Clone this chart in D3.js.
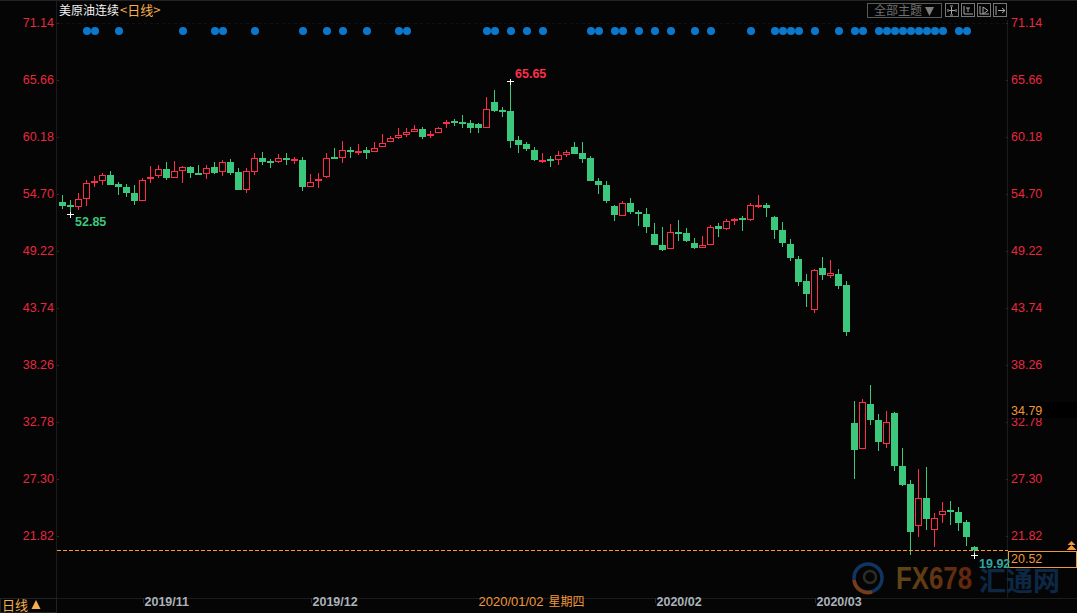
<!DOCTYPE html>
<html>
<head>
<meta charset="utf-8">
<style>
  html, body { margin: 0; padding: 0; background: #050505; overflow: hidden; }
  svg { display: block; }
  text { font-family: "Liberation Sans", Arial, sans-serif; }
  .cjk { font-family: "Noto Sans CJK SC", "Noto Sans", sans-serif; }
</style>
<script src="https://cdn.jsdelivr.net/npm/d3@7"></script>
</head>
<body>
<script>
    const opens = [53.88,53.59,53.43,54.14,55.78,55.93,56.48,55.61,55.33,54.75,54.01,56.23,56.41,57.06,56.22,56.89,57.25,56.67,56.60,57.25,
        56.80,57.73,56.77,55.07,56.80,58.11,57.82,57.76,58.11,57.92,57.92,55.35,55.87,56.32,58.21,58.14,58.88,58.74,58.88,58.72,
        59.20,59.68,60.07,60.35,60.64,60.90,60.32,60.49,61.35,61.67,61.57,61.48,61.38,61.03,63.50,62.73,62.63,59.85,59.46,58.88,
        57.82,58.02,57.95,58.43,59.17,58.59,58.11,55.90,55.52,53.50,52.57,53.79,52.92,52.73,50.81,49.75,49.39,51.00,50.90,49.94,
        49.49,49.78,51.58,51.32,52.15,52.34,52.18,53.40,53.59,52.44,51.19,49.85,48.40,46.29,43.53,47.54,46.80,46.96,45.90,32.64,
        30.17,34.46,32.92,30.64,33.60,28.50,26.77,22.70,25.43,22.38,23.76,24.24,24.08,23.12,20.71];
    const highs = [54.56,54.08,54.72,55.97,56.38,56.70,56.86,55.84,55.61,55.52,56.22,57.34,57.44,57.73,57.83,57.34,57.34,57.44,57.44,57.73,
        57.92,58.02,57.15,57.15,58.59,58.69,58.02,58.50,58.59,58.21,58.21,56.58,56.70,58.57,59.07,59.75,59.17,59.46,59.17,59.65,
        60.42,60.23,61.00,61.00,61.29,61.09,60.71,61.09,61.77,61.86,62.25,61.77,61.48,63.98,64.65,63.02,65.65,60.23,59.65,59.17,
        58.59,58.30,58.76,58.88,59.65,59.65,58.30,56.19,55.90,53.60,53.98,54.27,53.11,53.30,51.86,51.48,51.77,52.15,51.38,50.42,
        50.61,51.67,51.86,52.25,52.34,52.54,53.79,54.56,53.79,52.54,51.96,50.33,48.69,46.96,47.44,48.60,48.31,47.44,46.29,34.75,
        34.94,36.29,33.50,33.79,33.69,30.23,27.16,28.25,28.45,23.98,25.04,25.14,24.56,23.31,20.81];
    const lows = [53.24,52.85,53.11,53.50,55.35,55.52,55.52,54.56,54.39,53.59,54.01,55.74,56.22,56.00,56.22,55.74,56.22,56.48,56.09,56.57,
        56.41,56.51,55.04,54.78,56.51,57.44,57.15,57.60,57.44,57.54,54.94,55.30,55.23,56.22,58.05,57.66,58.11,58.40,58.02,58.72,
        59.14,59.68,59.94,60.13,60.64,59.94,60.04,60.49,61.00,61.19,61.00,60.52,60.52,61.03,62.54,62.06,59.07,58.59,58.79,57.82,
        57.63,57.25,57.44,58.21,58.50,57.63,55.90,54.65,53.79,52.06,52.57,52.73,51.58,50.90,49.75,49.17,49.39,50.13,50.04,49.36,
        49.49,49.78,50.52,51.19,51.67,51.09,52.06,53.30,52.44,50.33,49.55,48.21,45.81,43.79,43.21,46.38,46.58,45.52,41.00,27.25,
        30.17,32.44,29.94,30.23,28.02,26.58,19.95,21.68,22.35,20.72,23.02,22.82,22.25,20.81,19.92];
    const closes = [53.50,53.50,54.14,55.68,55.90,56.45,55.52,55.35,54.75,53.98,55.97,56.29,57.03,56.19,56.83,57.22,56.67,56.60,57.15,56.67,
        57.70,56.67,55.04,56.83,58.08,57.73,57.63,58.08,57.92,58.02,55.28,55.78,56.07,58.08,58.11,58.85,58.69,58.83,58.59,59.05,
        59.53,60.01,60.30,60.58,60.87,60.13,60.42,60.97,61.57,61.48,61.38,61.00,61.00,62.80,62.63,62.54,59.75,59.36,58.98,57.92,
        57.92,57.92,58.37,58.66,58.50,58.02,55.90,55.52,53.98,52.63,53.76,52.92,52.73,51.48,49.75,49.27,50.97,50.90,50.13,49.46,
        49.72,51.45,51.29,52.03,52.25,52.15,53.57,53.59,53.30,51.19,49.94,48.50,46.19,45.04,47.32,46.87,47.03,45.81,41.39,30.04,
        34.63,32.92,30.80,32.70,28.50,26.67,22.16,25.40,23.41,23.53,24.14,24.14,23.02,21.68,20.40];

    // candle indexes that carry a blue marker in the top row
    const markers = [3,4,7,15,19,20,24,30,33,35,38,42,43,53,54,56,58,60,66,67,69,70,72,74,76,79,81,86,
        89,90,91,92,94,97,99,100,102,103,104,105,106,107,108,109,110,112,113];

    const priceTicks = [71.14,65.66,60.18,54.70,49.22,43.74,38.26,32.78,27.30,21.82];
    const monthLabels = ["2019/11","2019/12","2020/02","2020/03"];
    const monthIndexes = [10,31,74,94];
    const cursorIndex = 52;
    const cursorDate = "2020/01/02";
    const cursorDay = "星期四";

    const maxPrice = 65.65, maxIndex = 56;
    const minPrice = 52.85, minIndex = 1;
    const lowPrice = 19.92, lowIndex = 114;
    const lastPrice = 20.52;
    const refPrice = 34.79;

    const width = 1077, height = 613;
    const bg = "#050505", up = "#ff2d4b", down = "#3cc87c", dim = "#1b1b1b", orange = "#f0973a";

    const x = d3.scaleLinear().domain([0, closes.length - 1]).range([62.5, 974.5]);
    const y = d3.scaleLinear().domain([71.14, 21.82]).range([22.5, 535.5]);
    const py = p => Math.round(y(p));

    const svg = d3.select("body").append("svg").attr("width", width).attr("height", height);
    svg.append("rect").attr("width", width).attr("height", height).attr("fill", bg);

    // frame lines
    const frame = svg.append("g").attr("stroke", dim).attr("shape-rendering", "crispEdges");
    frame.append("line").attr("x1", 56.5).attr("x2", 56.5).attr("y1", 0).attr("y2", height);
    frame.append("line").attr("x1", 1007.5).attr("x2", 1007.5).attr("y1", 20).attr("y2", 598);
    frame.append("line").attr("x1", 0).attr("x2", width).attr("y1", 598.5).attr("y2", 598.5);
    frame.append("line").attr("x1", 0).attr("x2", width).attr("y1", 0.5).attr("y2", 0.5).attr("stroke", "#222");
    frame.append("line").attr("x1", 60).attr("x2", 1005).attr("y1", 23.5).attr("y2", 23.5)
        .attr("stroke", "#111").attr("stroke-dasharray", "3,3");

    // price axes, left and right
    function styleAxis(g) {
        g.select(".domain").remove();
        g.selectAll("line").attr("stroke", "#2a2a2a").attr("shape-rendering", "crispEdges");
        g.selectAll("text").attr("fill", "#e8283f").attr("font-size", "12.5px");
    }
    svg.append("g").attr("transform", "translate(57,0)")
        .call(d3.axisLeft(y).tickValues(priceTicks).tickFormat(d3.format(".2f")).tickSize(-2).tickPadding(3))
        .call(styleAxis);
    svg.append("g").attr("transform", "translate(1008,0)")
        .call(d3.axisRight(y).tickValues(priceTicks).tickFormat(d3.format(".2f")).tickSize(-2).tickPadding(3))
        .call(styleAxis);

    // candles
    const candles = svg.append("g").attr("shape-rendering", "crispEdges");
    closes.forEach((c, i) => {
        const o = opens[i], isUp = c >= o;
        const color = isUp ? up : down;
        const cx = x(i);
        const top = py(Math.max(o, c));
        const bottom = Math.max(py(Math.min(o, c)), top + 2);
        const g = candles.append("g").attr("stroke", color);
        g.append("line").attr("x1", cx).attr("x2", cx).attr("y1", py(highs[i])).attr("y2", top);
        g.append("line").attr("x1", cx).attr("x2", cx).attr("y1", bottom).attr("y2", py(lows[i]));
        g.append("rect").attr("x", cx - 3.5).attr("y", top)
            .attr("width", 7).attr("height", bottom - top)
            .attr("fill", color).attr("stroke", "none");
        // rising candles are hollow
        if (isUp && bottom - top > 2) {
            g.append("rect").attr("x", cx - 2.5).attr("y", top + 1)
                .attr("width", 5).attr("height", bottom - top - 2)
                .attr("fill", bg).attr("stroke", "none");
        }
    });

    // markers row
    svg.append("g").selectAll("circle")
        .data(markers)
        .enter()
        .append("circle")
        .attr("cx", d => x(d) + 0.5)
        .attr("cy", 31)
        .attr("r", 4)
        .attr("fill", "#0b78cc");

    // white crosses on the extremes
    function cross(i, p, dy) {
        const g = svg.append("g").attr("stroke", "#fff").attr("shape-rendering", "crispEdges");
        const cy = py(p) + dy + 0.5;
        g.append("line").attr("x1", x(i) - 3.5).attr("x2", x(i) + 3.5).attr("y1", cy).attr("y2", cy);
        g.append("line").attr("x1", x(i)).attr("x2", x(i)).attr("y1", cy - 3).attr("y2", cy + 3);
    }
    cross(maxIndex, maxPrice, 1);
    cross(minIndex, minPrice, 1);
    cross(lowIndex, lowPrice, 0);

    function label(tx, ty, str, color, size, anchor) {
        return svg.append("text").attr("x", tx).attr("y", ty).attr("fill", color)
            .attr("font-size", (size || 12.5) + "px").attr("text-anchor", anchor || "start").text(str);
    }
    label(x(maxIndex) + 4.5, 78, maxPrice.toFixed(2), up).attr("font-weight", "bold");
    label(x(minIndex) + 4.5, 226, minPrice.toFixed(2), down).attr("font-weight", "bold");

    // watermark
    const wm = svg.append("g");
    wm.append("circle").attr("cx", 868).attr("cy", 578).attr("r", 14)
        .attr("fill", "none").attr("stroke", "#103560").attr("stroke-width", 3.5);
    wm.append("path").attr("d", "M854,580 A14,14 0 0 0 872,592").attr("fill", "none")
        .attr("stroke", "#7a3a12").attr("stroke-width", 3.5);
    wm.append("circle").attr("cx", 870).attr("cy", 577).attr("r", 6)
        .attr("fill", "none").attr("stroke", "#2c2c26").attr("stroke-width", 2.5);
    const fxGrad = svg.append("defs").append("linearGradient").attr("id", "fxGrad");
    fxGrad.append("stop").attr("offset", "0%").attr("stop-color", "#5f4718");
    fxGrad.append("stop").attr("offset", "100%").attr("stop-color", "#65240c");
    wm.append("text").attr("x", 896).attr("y", 589).attr("font-size", "32px").attr("font-weight", "bold")
        .attr("fill", "url(#fxGrad)").attr("textLength", 76).attr("lengthAdjust", "spacingAndGlyphs").text("FX678");
    wm.append("text").attr("class", "cjk").attr("x", 979).attr("y", 591).attr("font-size", "27px").attr("font-weight", "bold")
        .attr("fill", "#0c2844").text("汇通网");

    // last price line
    svg.append("line").attr("x1", 57).attr("x2", 1008)
        .attr("y1", 550.5).attr("y2", 550.5)
        .attr("stroke", "#ff9a30").attr("stroke-dasharray", "4,2");

    // current value boxes on the right
    svg.append("rect").attr("x", 1009).attr("y", 402).attr("width", 68).attr("height", 16).attr("fill", "#000");
    label(1011, 415, refPrice.toFixed(2), orange);
    svg.append("rect").attr("x", 1008.5).attr("y", 551.5).attr("width", 68).attr("height", 16)
        .attr("fill", "#000").attr("stroke", orange).attr("shape-rendering", "crispEdges");
    label(1011, 563, lastPrice.toFixed(2), orange);
    label(979, 568, lowPrice.toFixed(2), "#2fa7a0").attr("font-weight", "bold");
    svg.append("path").attr("d", "M1071.5,541 l4,4 h-8 z M1071.5,545 l5,5 h-10 z").attr("fill", orange);

    // bottom axis
    monthLabels.forEach((m, i) => {
        const tx = x(monthIndexes[i]) + 1;
        svg.append("line").attr("x1", tx).attr("x2", tx).attr("y1", 598).attr("y2", 603)
            .attr("stroke", "#2a2a2a").attr("shape-rendering", "crispEdges");
        label(tx + 1, 606, m, "#aab2ba", 12.5).attr("font-weight", "bold");
    });
    label(x(cursorIndex), 606, cursorDate, orange, 13);
    label(x(cursorIndex) + 70, 606, cursorDay, orange, 12).attr("class", "cjk");

    svg.append("rect").attr("x", 0.5).attr("y", 598.5).attr("width", 56).attr("height", 14)
        .attr("fill", bg).attr("stroke", "#222").attr("shape-rendering", "crispEdges");
    label(2, 610, "日线", "#f4b04e", 13).attr("class", "cjk");
    svg.append("path").attr("d", "M36,600 l4.5,9 h-9 z").attr("fill", "#f4b04e");

    // title
    label(59, 15, "美原油连续", "#f2f2f2", 12).attr("class", "cjk");
    label(120, 15, "<日线>", "#f4b04e", 13).attr("class", "cjk");

    // top right toolbar
    svg.append("rect").attr("x", 867.5).attr("y", 3.5).attr("width", 74).attr("height", 14)
        .attr("fill", "none").attr("stroke", "#5a5a5a").attr("shape-rendering", "crispEdges");
    label(874, 15, "全部主题", "#6f6f6f", 12).attr("class", "cjk");
    svg.append("path").attr("d", "M925,7 h9 l-4.5,9 z").attr("fill", "#7c7c7c");
    const icons = [
        "M949,10.5h6M951.5,7v7M948,9v3M956,9v3M950,6h3M950,15h3",
        "M964,6v8h9M966,8h4M968,8v4",
        "M980,6v8h9M983,7l5,3.5l-5,3.5z",
        "M996,6v9M998,10.5h7M1002,8l3,2.5l-3,2.5"
    ];
    [945, 961, 977, 993].forEach((bx, i) => {
        svg.append("rect").attr("x", bx + 0.5).attr("y", 3.5).attr("width", 13).attr("height", 13)
            .attr("fill", "none").attr("stroke", "#777").attr("shape-rendering", "crispEdges");
        svg.append("path").attr("d", icons[i]).attr("fill", "none").attr("stroke", "#a8a8a8");
    });
</script>
</body>
</html>
